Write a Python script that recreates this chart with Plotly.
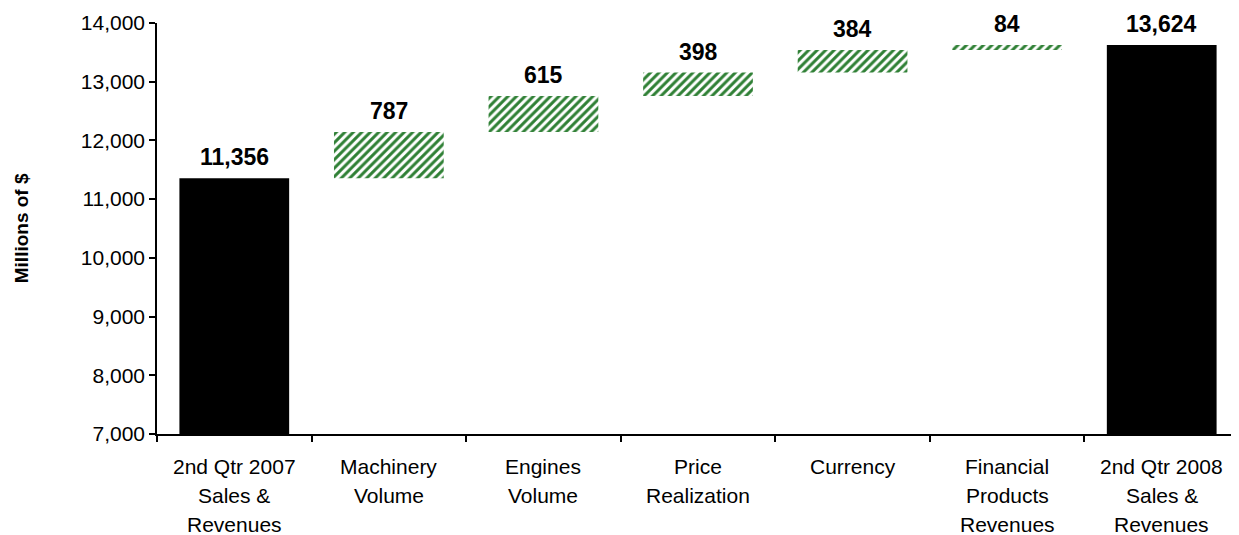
import numpy as np
import plotly.graph_objects as go

categories = ["2nd Qtr 2007 Sales & Revenues", "Machinery Volume", "Engines Volume",
              "Price Realization", "Currency", "Financial Products Revenues",
              "2nd Qtr 2008 Sales & Revenues"]
category_lines = [["2nd Qtr 2007", "Sales &", "Revenues"], ["Machinery", "Volume"],
                  ["Engines", "Volume"], ["Price", "Realization"], ["Currency"],
                  ["Financial", "Products", "Revenues"], ["2nd Qtr 2008", "Sales &", "Revenues"]]
start_total = 11356
increments = [787, 615, 398, 384, 84]
end_total = 13624
y_ticks = [7000, 8000, 9000, 10000, 11000, 12000, 13000, 14000]

FONT = "Liberation Sans, Arial, sans-serif"
GREEN = "#2f8035"

cum = start_total + np.cumsum([0] + increments)
inc_bases = cum[:-1]
inc_tops = cum[1:]

fig = go.Figure()
fig.add_trace(go.Bar(x=[categories[0], categories[-1]], y=[start_total, end_total],
                     marker=dict(color="black", line=dict(width=0)), width=0.71,
                     hoverinfo="skip", showlegend=False))
fig.add_trace(go.Bar(x=categories[1:-1], y=increments, base=inc_bases,
                     marker=dict(color="white", line=dict(width=0),
                                 pattern=dict(shape="/", fgcolor=GREEN, bgcolor="white",
                                              size=6, solidity=0.5, fillmode="replace")),
                     width=0.71, hoverinfo="skip", showlegend=False))

tops = [start_total] + list(inc_tops) + [end_total]
labels = [start_total] + increments + [end_total]
for c, t, v in zip(categories, tops, labels):
    fig.add_annotation(x=c, y=t, text=f"<b>{v:,}</b>", showarrow=False, yanchor="bottom",
                       yshift=6, font=dict(family=FONT, size=23, color="black"))

for c, lines in zip(categories, category_lines):
    for i, line in enumerate(lines):
        fig.add_annotation(x=c, y=0, xref="x", yref="paper", text=line, showarrow=False,
                           yanchor="middle", yshift=-32 - 29 * i,
                           font=dict(family=FONT, size=21, color="black"))

fig.add_annotation(x=-0.125, y=0.5, xref="paper", yref="paper", text="<b>Millions of $</b>",
                   textangle=-90, showarrow=False, xanchor="center", yanchor="middle",
                   font=dict(family=FONT, size=19, color="black"))

fig.update_layout(
    width=1231, height=527, margin=dict(l=149, r=0, t=15, b=101),
    plot_bgcolor="white", paper_bgcolor="white",
    font=dict(family=FONT, size=20, color="black"),
)
fig.update_xaxes(categoryorder="array", categoryarray=categories, automargin=False,
                 showline=True, linecolor="black", linewidth=1.5, ticks="outside",
                 tickson="boundaries", ticklen=6, tickcolor="black", tickwidth=1.5,
                 showgrid=False, showticklabels=False)
fig.update_yaxes(range=[7000, 14000], tickvals=y_ticks, tickformat=",", showline=True,
                 automargin=False, linecolor="black", linewidth=1.5, ticks="outside",
                 ticklen=6, tickcolor="black", tickwidth=1.5, showgrid=False, zeroline=False,
                 tickfont=dict(family=FONT, size=21, color="black"))

fig.write_html("out.html")
